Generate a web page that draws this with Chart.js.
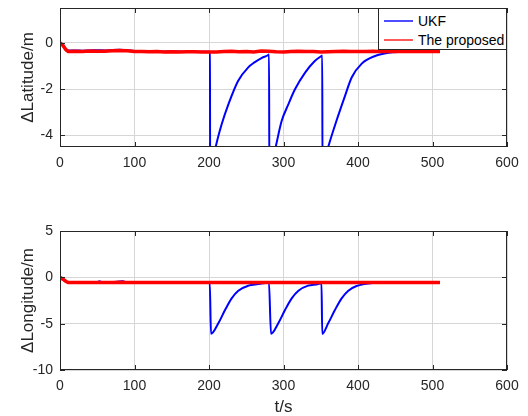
<!DOCTYPE html>
<html>
<head>
<meta charset="utf-8">
<script src="https://cdn.jsdelivr.net/npm/chart.js@4.4.0/dist/chart.umd.min.js"></script>
<style>
    body { margin: 0; background: #fff; width: 528px; height: 416px; position: relative; overflow: hidden; font-family: 'Liberation Sans', Arial, sans-serif; }
    .wrap { position: absolute; left: 0; }
    #legend { position: absolute; left: 378px; top: 8px; width: 129px; height: 42px; box-sizing: border-box; border: 1px solid #262626; background: #fff; z-index: 2; font-size: 14px; color: #000; }
    .row { position: absolute; left: 5px; height: 16px; display: flex; align-items: center; }
    .sample { width: 29px; height: 2px; margin-right: 5px; }
</style>
</head>
<body>
<div class="wrap" style="top:0px"><canvas id="lat-chart" width="528" height="185"></canvas></div>
<div class="wrap" style="top:200px"><canvas id="lon-chart" width="528" height="216"></canvas></div>
<div id="legend">
    <div class="row" style="top:4px"><div class="sample" style="background:#4d4dff"></div>UKF</div>
    <div class="row" style="top:23px"><div class="sample" style="background:#ff5a5a"></div>The proposed</div>
</div>
<script>
// shared x axis
const xTicks = [0, 100, 200, 300, 400, 500, 600];

// latitude error, UKF
const ukfLatT = [0, 5, 10, 20, 30, 40, 50, 60, 70, 80,
    90, 100, 120, 140, 160, 180, 200, 201.3, 201.5, 209,
    217, 226, 239, 253, 261, 271, 280, 280.6, 281, 289.5,
    297.5, 306.5, 315.4, 329, 342, 351, 352, 352.3, 360, 371,
    382, 391.5, 405, 423, 441, 460, 480, 500, 510];
const ukfLatV = [0, -0.15, -0.33, -0.33, -0.34, -0.33, -0.32, -0.33, -0.31, -0.3,
    -0.32, -0.36, -0.37, -0.38, -0.38, -0.39, -0.39, -0.4, -5.8, -4.5,
    -3.52, -2.66, -1.65, -1.05, -0.85, -0.65, -0.52, -0.5, -5.7, -4.5,
    -3.38, -2.66, -2.01, -1.29, -0.79, -0.57, -0.55, -5.4, -4.5, -3.38,
    -2.35, -1.5, -0.9, -0.57, -0.43, -0.4, -0.39, -0.4, -0.4];

// latitude error, proposed
const propLatT = [0, 4, 8, 11, 20, 30, 40, 50, 60, 70,
    80, 90, 100, 110, 120, 130, 140, 150, 160, 170,
    180, 190, 200, 210, 220, 230, 240, 250, 260, 270,
    280, 290, 300, 310, 320, 330, 340, 350, 360, 370,
    380, 390, 400, 410, 420, 430, 440, 450, 460, 470,
    480, 490, 500, 510];
const propLatV = [0, -0.12, -0.3, -0.38, -0.37, -0.38, -0.36, -0.37, -0.37, -0.35,
    -0.33, -0.35, -0.38, -0.38, -0.39, -0.38, -0.4, -0.39, -0.4, -0.39,
    -0.39, -0.4, -0.4, -0.4, -0.38, -0.37, -0.39, -0.38, -0.4, -0.36,
    -0.37, -0.39, -0.4, -0.38, -0.37, -0.38, -0.38, -0.4, -0.39, -0.38,
    -0.37, -0.38, -0.38, -0.38, -0.37, -0.38, -0.38, -0.38, -0.38, -0.37,
    -0.38, -0.38, -0.38, -0.38];

// longitude error, UKF
const ukfLonT = [0, 5, 10, 20, 30, 40, 50, 53, 56, 70,
    83, 85, 88, 100, 120, 140, 160, 180, 200, 201,
    202.7, 212.5, 221.5, 230.4, 239.3, 252.8, 266, 276, 280.5, 283.2,
    293, 302, 311, 320, 333, 346.7, 351, 352, 360, 369,
    378, 387, 398, 409, 420, 440, 460, 480, 500, 510];
const ukfLonV = [0, -0.3, -0.52, -0.55, -0.55, -0.55, -0.52, -0.42, -0.52, -0.55,
    -0.42, -0.42, -0.53, -0.55, -0.55, -0.55, -0.55, -0.56, -0.56, -0.56,
    -6.1, -4.96, -3.53, -2.27, -1.44, -0.9, -0.72, -0.6, -0.58, -6.1,
    -4.96, -3.53, -2.27, -1.44, -0.9, -0.72, -0.6, -6.1, -4.96, -3.53,
    -2.27, -1.44, -0.94, -0.72, -0.62, -0.57, -0.56, -0.56, -0.55, -0.55];

// longitude error, proposed
const propLonT = [0, 4, 8, 11, 20, 30, 40, 50, 60, 70,
    80, 90, 100, 120, 140, 160, 180, 200, 220, 240,
    260, 280, 300, 320, 340, 360, 380, 400, 420, 440,
    460, 480, 500, 510];
const propLonV = [0, -0.2, -0.45, -0.55, -0.56, -0.55, -0.55, -0.56, -0.55, -0.55,
    -0.54, -0.56, -0.57, -0.56, -0.55, -0.56, -0.56, -0.55, -0.56, -0.55,
    -0.56, -0.55, -0.56, -0.55, -0.55, -0.56, -0.55, -0.56, -0.55, -0.56,
    -0.55, -0.55, -0.56, -0.55];

const latTicks = [-4, -2, 0];
const lonTicks = [-10, -5, 0, 5];

const textColor = '#262626';
const fontFamily = "'Liberation Sans', Arial, sans-serif";

function toPoints(ts, vs) {
    let pts = [];
    for (let i = 0; i < ts.length; i++) {
        pts.push({ x: ts[i], y: vs[i] });
    }
    return pts;
}

// box round the plot area plus MATLAB style inward ticks
const boxPlugin = {
    id: 'box',
    afterDraw(chart) {
        const ctx = chart.ctx;
        const a = chart.chartArea;
        ctx.save();
        ctx.strokeStyle = textColor;
        ctx.lineWidth = 1;
        ctx.strokeRect(Math.round(a.left) + 0.5, Math.round(a.top) + 0.5,
            Math.round(a.right - a.left) - 1, Math.round(a.bottom - a.top) - 1);
        ctx.beginPath();
        chart.scales.x.ticks.forEach(t => {
            let px = Math.round(chart.scales.x.getPixelForValue(t.value)) + 0.5;
            ctx.moveTo(px, a.bottom); ctx.lineTo(px, a.bottom - 5);
            ctx.moveTo(px, a.top); ctx.lineTo(px, a.top + 5);
        });
        chart.scales.y.ticks.forEach(t => {
            let py = Math.round(chart.scales.y.getPixelForValue(t.value)) + 0.5;
            ctx.moveTo(a.left, py); ctx.lineTo(a.left + 5, py);
            ctx.moveTo(a.right, py); ctx.lineTo(a.right - 5, py);
        });
        ctx.stroke();
        ctx.restore();
    }
};

function getConfig(ukfT, ukfV, propT, propV, yMin, yMax, yTicks, yTitle, xHeight, padTop, showXTitle) {
    let config = {
        type: 'line',
        data: {
            datasets: [
                {
                    label: 'The proposed',
                    data: toPoints(propT, propV),
                    borderColor: '#ff0000',
                    borderWidth: 3.5,
                    pointRadius: 0,
                    tension: 0,
                    order: 0
                },
                {
                    label: 'UKF',
                    data: toPoints(ukfT, ukfV),
                    borderColor: '#0000ff',
                    borderWidth: 2,
                    pointRadius: 0,
                    cubicInterpolationMode: 'monotone',
                    order: 1
                }
            ]
        },
        options: {
            responsive: false,
            animation: false,
            devicePixelRatio: 1,
            layout: { padding: { left: 0, right: 21, top: padTop, bottom: 0 } },
            plugins: {
                legend: { display: false },
                tooltip: { enabled: false }
            },
            scales: {
                x: {
                    type: 'linear',
                    min: 0,
                    max: 600,
                    afterBuildTicks: (scale) => { scale.ticks = xTicks.map(v => ({ value: v })); },
                    afterFit: (scale) => {
                        scale.height = xHeight;
                        scale.paddingLeft = 0;
                        scale.paddingRight = 0;
                    },
                    grid: { color: '#d6d6d6', drawTicks: false },
                    border: { display: false },
                    ticks: { color: textColor, font: { family: fontFamily, size: 14 }, padding: 8, maxRotation: 0 },
                    title: {
                        display: showXTitle,
                        text: 't/s',
                        color: textColor,
                        font: { family: fontFamily, size: 17, lineHeight: 1 },
                        padding: 0
                    }
                },
                y: {
                    min: yMin,
                    max: yMax,
                    afterBuildTicks: (scale) => { scale.ticks = yTicks.map(v => ({ value: v })); },
                    afterFit: (scale) => {
                        scale.width = 60;
                        scale.paddingTop = 0;
                        scale.paddingBottom = 0;
                    },
                    grid: { color: '#d6d6d6', drawTicks: false },
                    border: { display: false },
                    ticks: { color: textColor, font: { family: fontFamily, size: 14 }, padding: 7 },
                    title: {
                        display: true,
                        text: yTitle,
                        color: textColor,
                        font: { family: fontFamily, size: 17, lineHeight: 1.2 },
                        padding: { top: 18, bottom: 0 }
                    }
                }
            }
        },
        plugins: [boxPlugin]
    };
    return config;
}

new Chart(document.getElementById('lat-chart'),
    getConfig(ukfLatT, ukfLatV, propLatT, propLatV, -4.5, 1.5, latTicks, 'ΔLatitude/m', 38, 8, false));
new Chart(document.getElementById('lon-chart'),
    getConfig(ukfLonT, ukfLonV, propLonT, propLonV, -10, 5, lonTicks, 'ΔLongitude/m', 46, 31, true));
</script>
</body>
</html>
